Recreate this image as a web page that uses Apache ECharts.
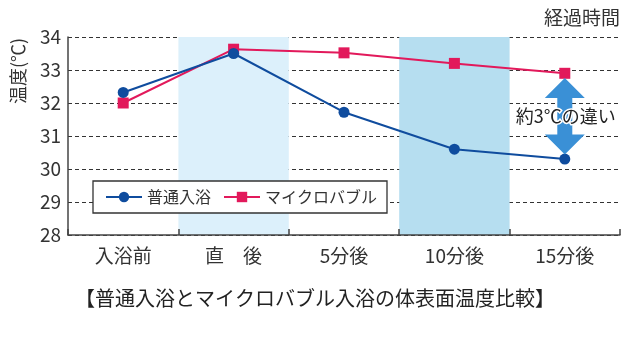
<!DOCTYPE html>
<html><head><meta charset="utf-8">
<script src="https://cdn.jsdelivr.net/npm/echarts@6/dist/echarts.min.js"></script>
<style>html,body{margin:0;padding:0;background:#fff}#c{width:630px;height:338px}</style>
</head><body><div id="c"></div>
<script>
const categories = ['入浴前', '直　後', '5分後', '10分後', '15分後'];
const normalBath = [32.32, 33.5, 31.72, 30.6, 30.3];
const microBubble = [32.0, 33.63, 33.52, 33.2, 32.9];
const seriesNames = ['普通入浴', 'マイクロバブル'];
const shadedBands = [[1, 34, '#dcf0fb'], [3, 34, '#b6def0']];
const diffArrow = [[4, 32.76, 30.44, 31.6]];
const yTicks = [28, 34, 1];
const captionText = '【普通入浴とマイクロバブル入浴の体表面温度比較】';
const yAxisName = '温度(℃)';
const xAxisName = '経過時間';
const arrowLabel = '約3℃の違い';

const FONT = '"Noto Sans CJK JP", "Noto Sans", sans-serif';
const chart = echarts.init(document.getElementById('c'), null, {renderer: 'canvas'});
chart.setOption({
  animation: false,
  textStyle: {fontFamily: FONT},
  title: {text: captionText, left: 'center', top: 283,
    textStyle: {fontFamily: FONT, fontSize: 20, fontWeight: 'normal', color: '#222'}},
  grid: {left: 68, right: 10, top: 37, bottom: 103},
  legend: {
    data: seriesNames, left: 93, top: 181, orient: 'horizontal',
    backgroundColor: '#fff', borderColor: '#333', borderWidth: 1.3,
    padding: [8, 10, 8, 12], itemGap: 12, itemWidth: 36, itemHeight: 13,
    textStyle: {fontFamily: FONT, fontSize: 16, color: '#333'}, z: 10
  },
  graphic: [
    {type: 'text', right: 10, top: 8, style: {text: xAxisName, font: '19px ' + FONT, fill: '#333'}},
    {type: 'text', x: 9, y: 104, rotation: Math.PI / 2, style: {text: yAxisName, font: '18px ' + FONT, fill: '#333', textAlign: 'left', textVerticalAlign: 'top'}}
  ],
  xAxis: {
    type: 'category', data: categories, boundaryGap: true,
    axisLine: {lineStyle: {color: '#444', width: 1.5}},
    axisTick: {show: true, inside: true, length: 6, lineStyle: {color: '#444', width: 1.5}},
    axisLabel: {fontSize: 19, color: '#333', margin: 11, fontFamily: FONT},
    splitLine: {show: false}
  },
  yAxis: {
    type: 'value', min: yTicks[0], max: yTicks[1], interval: yTicks[2],
    axisLine: {show: true, lineStyle: {color: '#444', width: 1.5}},
    axisTick: {show: false},
    axisLabel: {fontSize: 19, color: '#333', margin: 7, fontFamily: FONT},
    splitLine: {show: true, lineStyle: {color: '#333', type: [4, 3], width: 1.2}}
  },
  series: [
    {
      type: 'custom', name: 'bands', z: 0, silent: true,
      data: shadedBands,
      renderItem: function (params, api) {
        const top = api.coord([api.value(0), api.value(1)]);
        const bottom = api.coord([api.value(0), yTicks[0]]);
        const w = api.size([1, 0])[0];
        return {type: 'rect', shape: {x: top[0] - w / 2, y: top[1], width: w, height: bottom[1] - top[1]},
          style: {fill: shadedBands[params.dataIndex][2]}, z2: 0};
      },
      encode: {x: 0, y: 1}
    },
    {
      name: seriesNames[0], type: 'line', data: normalBath, z: 5,
      symbol: 'circle', symbolSize: 11,
      itemStyle: {color: '#0f4c9e'}, lineStyle: {color: '#0f4c9e', width: 2}
    },
    {
      name: seriesNames[1], type: 'line', data: microBubble, z: 4,
      symbol: 'rect', symbolSize: 11,
      itemStyle: {color: '#e2195b'}, lineStyle: {color: '#e2195b', width: 2}
    },
    {
      type: 'custom', name: 'arrow', z: 6, silent: true,
      data: diffArrow,
      renderItem: function (params, api) {
        const t = api.coord([api.value(0), api.value(1)]);
        const b = api.coord([api.value(0), api.value(2)]);
        const m = api.coord([api.value(0), api.value(3)]);
        const x = t[0], hw = 20, hl = 20, sw = 7.5;
        const pts = [[x, t[1]], [x + hw, t[1] + hl], [x + sw, t[1] + hl], [x + sw, b[1] - hl], [x + hw, b[1] - hl],
          [x, b[1]], [x - hw, b[1] - hl], [x - sw, b[1] - hl], [x - sw, t[1] + hl], [x - hw, t[1] + hl]];
        return {type: 'group', children: [
          {type: 'polygon', shape: {points: pts}, style: {fill: '#3a90d6'}},
          {type: 'text', x: m[0] + 1, y: m[1], style: {text: arrowLabel, font: '18px ' + FONT, fill: '#222',
            align: 'center', verticalAlign: 'middle', stroke: '#fff', lineWidth: 3}}
        ]};
      },
      encode: {x: 0, y: 1}
    }
  ]
});
</script></body></html>
